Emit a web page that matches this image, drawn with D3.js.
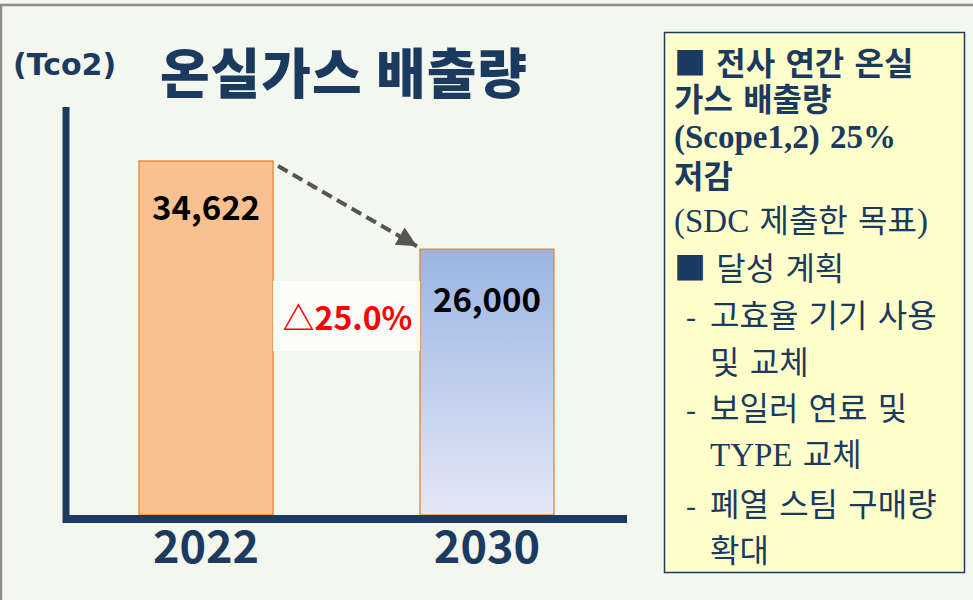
<!DOCTYPE html>
<html><head><meta charset="utf-8">
<script src="https://cdn.jsdelivr.net/npm/d3@7"></script>
<style>
html,body{margin:0;padding:0;background:#f5f5f3;}
svg{display:block;}
</style></head>
<body>
<svg id="chart" width="973" height="600"></svg>
<script>
// ---- data ----
const categories = ["2022", "2030"];
const values = [34622, 26000];
const valueLabels = ["34,622", "26,000"];
const changeLabel = "△25.0%";
const title = "온실가스 배출량";
const unitLabel = "(Tco2)";
const noteLines = [
  "■ 전사 연간 온실",
  "가스 배출량",
  "(Scope1,2) 25%",
  "저감",
  "(SDC 제출한 목표)",
  "■ 달성 계획",
  "- 고효율 기기 사용",
  "및 교체",
  "- 보일러 연료 및",
  "TYPE 교체",
  "- 폐열 스팀 구매량",
  "확대"
];

// ---- drawing ----
const svg = d3.select("#chart");
const navy = "#1b3a5f";
const kr = "'Noto Sans CJK KR', 'Noto Sans', sans-serif";

// panel background and border
svg.append("rect").attr("x", 1).attr("y", 5).attr("width", 990).attr("height", 620)
  .attr("fill", "#f4f7ee").attr("stroke", "#8c8c8c").attr("stroke-width", 2.5);

const x = d3.scaleBand().domain(categories).range([66, 627])
  .paddingInner(0.523).paddingOuter(0.26);
const y = d3.scaleLinear().domain([0, 40000]).range([515, 106]);

const defs = svg.append("defs");
const grad = defs.append("linearGradient").attr("id", "blueGrad")
  .attr("x1", 0).attr("y1", 0).attr("x2", 0).attr("y2", 1);
grad.append("stop").attr("offset", "0%").attr("stop-color", "#9ab4e2");
grad.append("stop").attr("offset", "100%").attr("stop-color", "#e3e8f6");

const fills = ["#f9c18f", "url(#blueGrad)"];

// bars
svg.selectAll("rect.bar").data(categories).join("rect")
  .attr("class", "bar")
  .attr("x", d => x(d))
  .attr("y", (d, i) => y(values[i]))
  .attr("width", x.bandwidth())
  .attr("height", (d, i) => y(0) - y(values[i]))
  .attr("fill", (d, i) => fills[i])
  .attr("stroke", "#e8842f").attr("stroke-width", 1.3);

// value labels
const labelOffsets = [59, 63];
svg.selectAll("text.val").data(categories).join("text")
  .attr("class", "val")
  .attr("x", d => x(d) + x.bandwidth() / 2)
  .attr("y", (d, i) => y(values[i]) + labelOffsets[i])
  .attr("text-anchor", "middle")
  .attr("font-family", kr).attr("font-weight", 700).attr("font-size", 33)
  .attr("fill", "#000")
  .text((d, i) => valueLabels[i]);

// change box + label
const gapX0 = x(categories[0]) + x.bandwidth();
const gapX1 = x(categories[1]);
svg.append("rect").attr("x", gapX0).attr("y", 281)
  .attr("width", gapX1 - gapX0).attr("height", 70)
  .attr("fill", "#fcfdf9");
svg.append("text").attr("x", (gapX0 + gapX1) / 2 + 1).attr("y", 330)
  .attr("text-anchor", "middle")
  .attr("font-family", kr).attr("font-weight", 700).attr("font-size", 32)
  .attr("fill", "#ff0000").text(changeLabel);

// dashed arrow
defs.append("marker").attr("id", "arrowHead")
  .attr("viewBox", "0 0 10 10").attr("refX", 10).attr("refY", 5)
  .attr("markerWidth", 5).attr("markerHeight", 5)
  .attr("markerUnits", "strokeWidth")
  .attr("orient", "auto")
  .append("path").attr("d", "M0,0 L10,5 L0,10 z").attr("fill", "#555555");
const ax0 = gapX0 + 5, ay0 = y(values[0]) + 5;
const ax1 = gapX1, ay1 = y(values[1]) - 1;
svg.append("line")
  .attr("x1", ax0).attr("y1", ay0).attr("x2", ax1 - 3).attr("y2", ay1 - 2)
  .attr("stroke", "#555555").attr("stroke-width", 4)
  .attr("stroke-dasharray", "11,6")
  .attr("marker-end", "url(#arrowHead)");

// axes (lines only)
const yAxis = svg.append("g").attr("transform", "translate(66,0)")
  .call(d3.axisLeft(y).tickValues([]).tickSizeOuter(0));
yAxis.select(".domain").attr("stroke", navy).attr("stroke-width", 7)
  .attr("d", `M0,${y.range()[1] + 1}V${y(0) + 8}`);
const xAxis = svg.append("g").attr("transform", "translate(0,519)")
  .call(d3.axisBottom(x).tickValues([]).tickSizeOuter(0));
xAxis.select(".domain").attr("stroke", navy).attr("stroke-width", 8)
  .attr("d", `M${x.range()[0]},0H${x.range()[1]}`);

// category labels
svg.selectAll("text.cat").data(categories).join("text")
  .attr("class", "cat")
  .attr("x", d => x(d) + x.bandwidth() / 2)
  .attr("y", 563)
  .attr("text-anchor", "middle")
  .attr("font-family", kr).attr("font-weight", 700).attr("font-size", 45)
  .attr("fill", navy).text(d => d);

// title and unit
svg.append("text").attr("x", 344).attr("y", 94).attr("text-anchor", "middle")
  .attr("font-family", kr).attr("font-weight", 900).attr("font-size", 54)
  .attr("letter-spacing", 1)
  .attr("fill", navy).text(title);
svg.append("text").attr("x", 13).attr("y", 75)
  .attr("font-family", "'DejaVu Sans', sans-serif").attr("font-weight", 700).attr("font-size", 30)
  .attr("fill", navy).text(unitLabel);

// note box
svg.append("rect").attr("x", 664.5).attr("y", 32.5).attr("width", 300).attr("height", 540)
  .attr("fill", "#ffffcc").attr("stroke", "#1f3a5f").attr("stroke-width", 1.5);
const baselines = [75, 111, 148, 188, 232, 280, 327, 374, 420, 466, 516, 562];
const boldLines = 4;
const note = svg.append("g").attr("fill", navy);
const isKr = ch => /[\u3131-\uD7A3\u25A0]/.test(ch);
function addRuns(textSel, s) {
  // split into Hangul/■ runs, space runs and Latin runs
  const runs = [];
  for (const ch of s) {
    const k = isKr(ch) ? "k" : (ch === " " ? "s" : "l");
    const last = runs[runs.length - 1];
    if (last && last.k === k) last.t += ch; else runs.push({k, t: ch});
  }
  let afterSpace = false;
  runs.forEach(r => {
    const ts = textSel.append("tspan").text(r.t);
    if (afterSpace) ts.attr("dx", 2);
    if (r.k === "k") ts.attr("font-family", kr).attr("font-size", 32);
    else ts.attr("font-family", "'Liberation Serif', serif").attr("font-size", 33);
    afterSpace = r.k === "s";
  });
}
noteLines.forEach((t, i) => {
  let xx = 674;
  let txt = t;
  if (i >= 6) {
    if (t.startsWith("- ")) {
      note.append("text").attr("x", 686).attr("y", baselines[i])
        .attr("font-family", "'Liberation Serif', serif").attr("font-size", 30).text("-");
      txt = t.slice(2);
    }
    xx = 710;
  }
  const te = note.append("text").attr("x", xx).attr("y", baselines[i])
    .attr("xml:space", "preserve")
    .attr("font-weight", i < boldLines ? 700 : 400);
  addRuns(te, txt);
});
</script>
</body></html>
